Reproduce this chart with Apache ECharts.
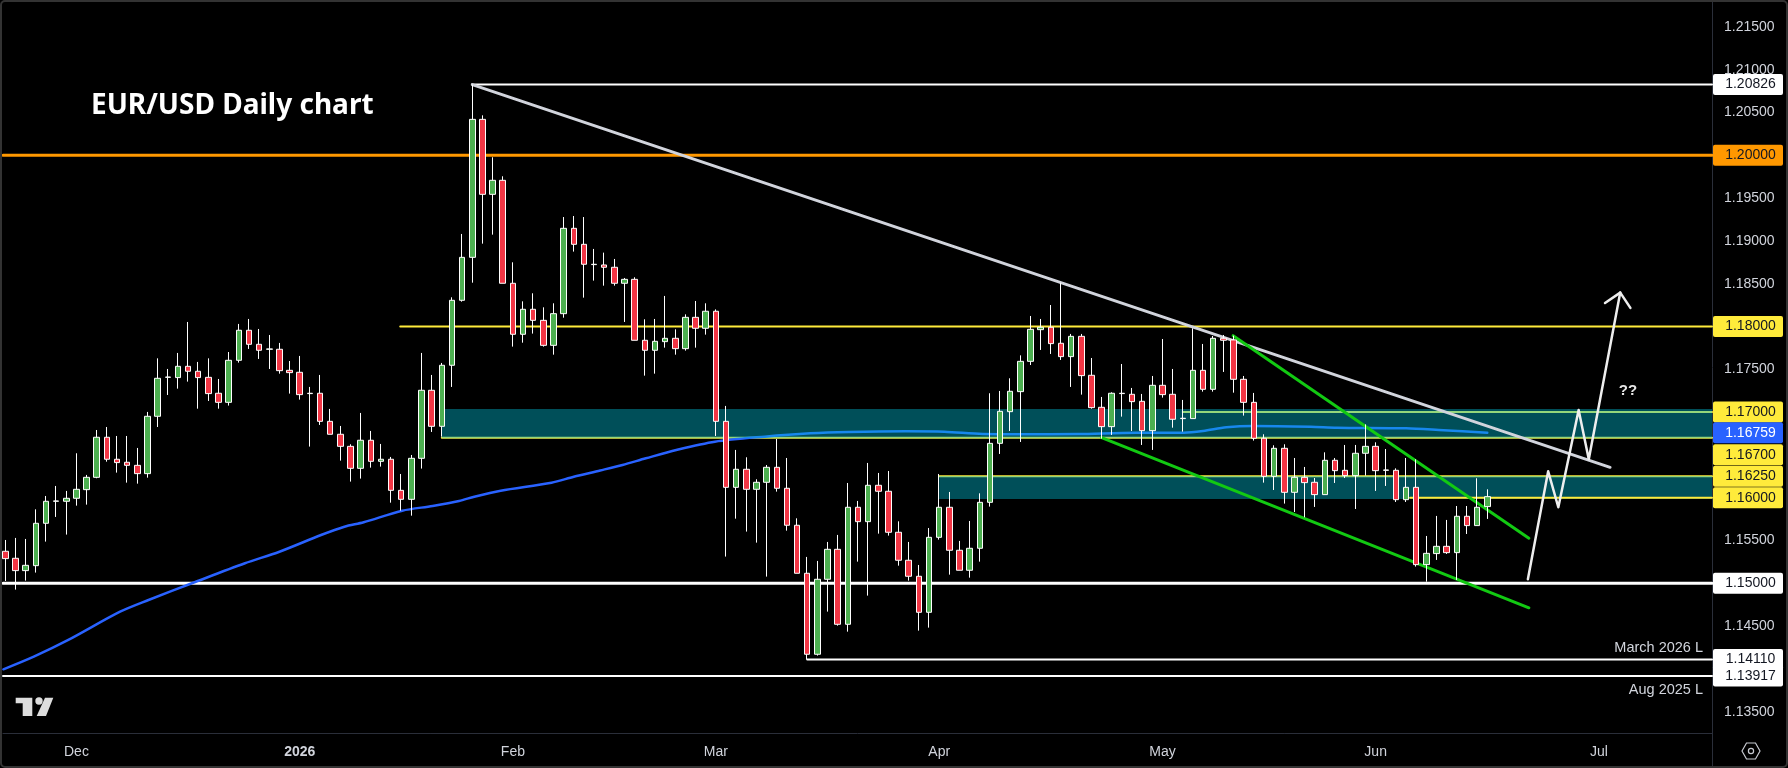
<!DOCTYPE html>
<html><head><meta charset="utf-8"><style>html,body{margin:0;padding:0;background:#000}#c{width:1788px;height:768px}</style>
<script src="https://cdn.jsdelivr.net/npm/echarts@6/dist/echarts.min.js"></script></head><body><div id="c"></div>
<script>
const opens=[1.15374,1.15292,1.15148,1.15206,1.15701,1.15958,1.15958,1.15993,1.16094,1.16238,1.16706,1.16449,1.16414,1.16378,1.16281,1.16951,1.17406,1.17403,1.17535,1.17477,1.17406,1.1722,1.17114,1.17605,1.17956,1.17792,1.17734,1.17734,1.17488,1.17465,1.17216,1.1722,1.16892,1.16741,1.166,1.16343,1.16671,1.16425,1.16449,1.16086,1.15981,1.1646,1.17255,1.16834,1.17547,1.18306,1.18808,1.2042,1.19544,1.19708,1.18505,1.17909,1.18201,1.18072,1.1778,1.1815,1.19147,1.1896,1.18723,1.18719,1.18692,1.18505,1.18551,1.17839,1.17722,1.17823,1.17862,1.17741,1.18107,1.17979,1.18178,1.16892,1.16121,1.16332,1.16098,1.1618,1.16355,1.1611,1.15678,1.15117,1.14171,1.15047,1.15397,1.14521,1.15888,1.1572,1.16145,1.16075,1.15596,1.15269,1.15082,1.14661,1.15537,1.15888,1.15386,1.15152,1.15409,1.15946,1.16635,1.17005,1.17239,1.17593,1.17963,1.17991,1.17804,1.17648,1.17885,1.1743,1.17056,1.1683,1.17216,1.17208,1.17126,1.16783,1.17313,1.17208,1.16924,1.16924,1.17488,1.17266,1.17862,1.17843,1.17383,1.17114,1.16694,1.1625,1.16577,1.16063,1.16238,1.1618,1.16036,1.16437,1.1632,1.16258,1.16519,1.166,1.1632,1.1632,1.15977,1.16121,1.15218,1.15347,1.15432,1.15358,1.15783,1.15674,1.15896];
const closes=[1.15288,1.15148,1.1521,1.15701,1.15958,1.15962,1.15993,1.16098,1.16238,1.16706,1.16449,1.1641,1.16378,1.16281,1.16951,1.17395,1.1741,1.17535,1.17477,1.17403,1.17216,1.17114,1.17605,1.17956,1.17792,1.17722,1.17738,1.17484,1.17461,1.17204,1.1722,1.16892,1.16741,1.166,1.16343,1.16671,1.16425,1.16449,1.16086,1.15981,1.1646,1.17255,1.16834,1.17547,1.18306,1.18808,1.2042,1.19544,1.19708,1.18505,1.17909,1.18201,1.18072,1.1778,1.1815,1.19147,1.1896,1.18727,1.18727,1.18692,1.18505,1.18551,1.17839,1.17722,1.17827,1.17862,1.17741,1.18107,1.17979,1.18178,1.16892,1.16121,1.16332,1.16098,1.1618,1.16355,1.1611,1.15678,1.15117,1.14171,1.15047,1.15397,1.14521,1.15888,1.1572,1.16145,1.16075,1.15596,1.15269,1.15082,1.14661,1.15537,1.15888,1.15386,1.15152,1.15409,1.15946,1.16635,1.17009,1.17243,1.17593,1.17967,1.17991,1.178,1.17648,1.17885,1.17426,1.17052,1.1683,1.1722,1.1722,1.17122,1.16783,1.17313,1.17204,1.16916,1.16928,1.17488,1.17266,1.17862,1.17839,1.17383,1.17114,1.16694,1.1625,1.16577,1.16063,1.16238,1.16176,1.16036,1.16437,1.16316,1.16258,1.16519,1.166,1.16316,1.16324,1.15977,1.16121,1.15218,1.1535,1.15432,1.15358,1.15783,1.15674,1.15888,1.16012];
const lows=[1.15027,1.14926,1.15031,1.15125,1.15487,1.15775,1.15569,1.15907,1.15919,1.16227,1.16421,1.16293,1.16176,1.16164,1.16234,1.16826,1.172,1.17274,1.17356,1.1704,1.1713,1.1704,1.17076,1.17578,1.17738,1.17621,1.17504,1.17449,1.17216,1.17146,1.16597,1.1685,1.16741,1.16433,1.16188,1.16223,1.16351,1.16363,1.15942,1.15849,1.1579,1.1634,1.16768,1.16713,1.17294,1.1829,1.18512,1.18968,1.19073,1.18505,1.17765,1.17811,1.17917,1.17765,1.17671,1.18103,1.18875,1.18337,1.18536,1.18477,1.18477,1.18053,1.17839,1.17426,1.17449,1.17753,1.17671,1.17718,1.17753,1.17905,1.16721,1.15312,1.15755,1.15604,1.15475,1.15078,1.16071,1.15615,1.15117,1.1411,1.14155,1.14669,1.14505,1.14435,1.15253,1.14856,1.1558,1.15557,1.15206,1.15031,1.14447,1.14482,1.1551,1.15101,1.15152,1.15066,1.15253,1.15896,1.16511,1.1678,1.16651,1.1755,1.17726,1.17679,1.17609,1.17294,1.17204,1.1704,1.1669,1.16733,1.16947,1.1678,1.16616,1.16558,1.17169,1.16818,1.16772,1.16924,1.17239,1.17239,1.17469,1.17227,1.16959,1.16667,1.16176,1.1609,1.15931,1.15833,1.15771,1.15892,1.16036,1.16172,1.1623,1.15868,1.16258,1.16079,1.16137,1.1595,1.1595,1.15195,1.15019,1.15273,1.15343,1.15039,1.15576,1.15674,1.15752];
const highs=[1.15506,1.1553,1.15518,1.15864,1.1602,1.16137,1.16079,1.16519,1.16266,1.16791,1.16826,1.16721,1.16721,1.16581,1.17002,1.17628,1.17504,1.17691,1.18053,1.17586,1.17628,1.17387,1.17702,1.1803,1.18088,1.17971,1.17901,1.17808,1.17597,1.17656,1.17294,1.17434,1.17037,1.16838,1.16624,1.1699,1.1678,1.16628,1.16476,1.16277,1.16499,1.17691,1.17434,1.17574,1.18341,1.19081,1.20826,1.20467,1.19977,1.19755,1.1875,1.18294,1.18388,1.18224,1.18271,1.19279,1.19291,1.19279,1.18906,1.18863,1.18789,1.18567,1.18575,1.18084,1.18088,1.18357,1.17967,1.18142,1.18298,1.18271,1.182,1.17072,1.16558,1.16472,1.16215,1.16382,1.16686,1.16464,1.15759,1.15308,1.15261,1.15483,1.15565,1.16172,1.15962,1.16406,1.16289,1.16312,1.15724,1.15483,1.15214,1.15646,1.16277,1.16067,1.15495,1.15728,1.16051,1.1722,1.17247,1.17395,1.17663,1.18123,1.18088,1.18251,1.18512,1.17913,1.17913,1.17632,1.17177,1.17231,1.17562,1.17282,1.17212,1.17422,1.17854,1.17504,1.17142,1.17979,1.17796,1.17889,1.17901,1.17893,1.17422,1.17224,1.16741,1.16612,1.16624,1.16464,1.16359,1.1623,1.1653,1.16464,1.16616,1.16616,1.16857,1.16647,1.16569,1.16343,1.16464,1.16449,1.15553,1.15787,1.1574,1.15903,1.15903,1.16227,1.16098];

const maBars=[-0.2,2.8,6.2,11.3,14.1,18.7,23.6,27,31.1,33.4,35.3,39.1,42.1,44.7,46.2,48.8,53.8,56,58.6,60.8,63.1,66.1,69.9,74.8,79.3,83.1,88.7,92.5,96.3,100.1,105.7,111.4,116.1,118,120.3,122.9,128.6,131.2,138,141.7,146];
const maValues=[1.13995,1.14143,1.14338,1.14668,1.14805,1.15015,1.15234,1.15369,1.15564,1.15661,1.15713,1.15848,1.15903,1.15961,1.16012,1.16082,1.16175,1.16245,1.16318,1.16382,1.1646,1.16557,1.16654,1.16713,1.16752,1.16768,1.16776,1.16771,1.16744,1.16741,1.16744,1.16759,1.16759,1.16779,1.16822,1.16838,1.16829,1.16818,1.16811,1.16787,1.16759];

const monthTickBars=[7,29,50,70,92,114,135,157];
const monthTickLabels=['Dec','2026','Feb','Mar','Apr','May','Jun','Jul'];
const priceTicks=[1.215,1.21,1.205,1.195,1.19,1.185,1.175,1.155,1.145,1.135];

const tagValues=[1.20826,1.2,1.18,1.17,1.167,1.16759,1.1625,1.16,1.15,1.1411,1.13917];
const tagFills=['#ffffff','#ff9800','#ffeb3b','#ffeb3b','#ffeb3b','#2962ff','#ffeb3b','#ffeb3b','#ffffff','#ffffff','#ffffff'];
const tagInks=['#131722','#131722','#131722','#131722','#131722','#ffffff','#131722','#131722','#131722','#131722','#131722'];
const tagShift=[0,0,0,0,17,0,0,0,0,0,0];

const hLevels=[1.20826,1.2,1.18,1.17,1.167,1.1625,1.15,1.1411,1.13917];
const hStarts=[46,-0.236,38.9,116,43,92,-0.236,79,-0.236];
const hColors=['#ffffff','#ff9800','#ffeb3b','#ffeb3b','#ffeb3b','#ffeb3b','#ffffff','#ffffff','#ffffff'];
const hWidths=[2,3,2,2,2,2,3,2,2];
const supportLevel=1.16, supportStart=138.4;

const zoneTops=[1.17036,1.16252], zoneBottoms=[1.16695,1.15985], zoneStarts=[43,92];

const greyTrendBars=[46,158.1], greyTrendPrices=[1.20826,1.16355];
const upperWedgeBars=[120.96,150.1], upperWedgePrices=[1.17893,1.15526];
const lowerWedgeBars=[108,150.1], lowerWedgePrices=[1.16702,1.14714];
const pathBars=[150,152,153,155,156,159.1], pathPrices=[1.15047,1.16308,1.15888,1.17025,1.16449,1.18396];
const headBars=[157.6,159.1,160.1], headPrices=[1.18275,1.18396,1.18218];

const xMin=-0.236, xMax=168.14, yMin=1.13251, yMax=1.21791;
const zip=(a,b)=>a.map((v,i)=>[v,b[i]]);
const ln=(data,color,width,z,extra)=>Object.assign({type:'line',data,z,silent:true,showSymbol:false,symbol:'none',animation:false,lineStyle:{color,width,cap:'round',join:'round'},emphasis:{disabled:true}},extra||{});

const series=[];
hLevels.forEach((p,i)=>series.push(ln([[hStarts[i],p],[xMax,p]],hColors[i],hWidths[i],0)));
series.push(ln(zip(maBars,maValues),'#2962ff',2.5,0,{smooth:0.3}));
series.push({type:'line',data:[],z:1,silent:true,animation:false,markArea:{z:1,silent:true,animation:false,itemStyle:{color:'rgba(0,188,212,0.42)'},data:zoneTops.map((t,i)=>[{coord:[zoneStarts[i],t]},{coord:[xMax,zoneBottoms[i]]}])}});
series.push(ln([[supportStart,supportLevel],[xMax,supportLevel]],'#ffeb3b',2,1.2));
series.push(ln(zip(greyTrendBars,greyTrendPrices),'#d1d4dc',3,1.5));
series.push(ln(zip(upperWedgeBars,upperWedgePrices),'#12c912',3,1.5));
series.push(ln(zip(lowerWedgeBars,lowerWedgePrices),'#12c912',3,1.5));
series.push({type:'candlestick',z:2,silent:true,animation:false,barWidth:6,encode:{x:0,y:[1,2,3,4]},
  itemStyle:{color:'#4caf50',color0:'#f23645',borderColor:'#ffffff',borderColor0:'#ffffff',borderWidth:1},
  data:opens.map((o,i)=>[i,o,closes[i],lows[i],highs[i]])});
series.push(ln(zip(pathBars,pathPrices),'#eeeeee',2.5,3));
series.push(ln(zip(headBars,headPrices),'#eeeeee',2.5,3));
series.push({type:'scatter',z:10,silent:true,animation:false,symbolSize:0,clip:false,itemStyle:{opacity:1},
  data:tagValues.map((p,i)=>({value:[xMax,p],label:{backgroundColor:tagFills[i],color:tagInks[i],offset:[36,tagShift[i]]}})),
  label:{show:true,opacity:1,position:'right',distance:0,width:65,height:21,lineHeight:21,padding:[0,0,0,5],align:'center',borderRadius:2,fontFamily:'Liberation Sans',fontSize:14,
    formatter:p=>p.value[1].toFixed(5)}});

const chart=echarts.init(document.getElementById('c'),null,{renderer:'canvas',width:1788,height:768});
chart.setOption({
  backgroundColor:'#000000',animation:false,
  title:{text:'EUR/USD Daily chart',left:86,top:87,textStyle:{color:'#ffffff',fontSize:28,fontWeight:'bold',fontFamily:'Noto Sans'}},
  grid:{left:3,right:76,top:2,bottom:35},
  xAxis:{type:'value',min:xMin,max:xMax,splitLine:{show:false},axisTick:{show:false},
    axisLine:{show:true,onZero:false,lineStyle:{color:'#2a2e39',width:1}},
    axisLabel:{customValues:monthTickBars,margin:12,color:'#d1d4dc',fontFamily:'Liberation Sans',fontSize:14,showMinLabel:true,showMaxLabel:true,hideOverlap:false,
      formatter:v=>{const k=monthTickLabels[monthTickBars.indexOf(v)];return k==='2026'?'{b|2026}':k;},
      rich:{b:{fontWeight:'bold',color:'#d1d4dc',fontSize:14,fontFamily:'Liberation Sans'}}}},
  yAxis:{type:'value',position:'right',min:yMin,max:yMax,scale:true,splitLine:{show:false},axisTick:{show:false},
    axisLine:{show:true,onZero:false,lineStyle:{color:'#2a2e39',width:1}},
    axisLabel:{customValues:priceTicks,margin:12,color:'#d1d4dc',fontFamily:'Liberation Sans',fontSize:14,hideOverlap:false,formatter:v=>v.toFixed(5)}},
  series,
  graphic:[
    {type:'text',z:20,style:{x:1703,y:648,text:'March 2026 L',align:'right',verticalAlign:'middle',fill:'#d1d4dc',font:'14.5px "Liberation Sans"'}},
    {type:'text',z:20,style:{x:1703,y:690,text:'Aug 2025 L',align:'right',verticalAlign:'middle',fill:'#d1d4dc',font:'14.5px "Liberation Sans"'}},
    {type:'text',z:20,style:{x:1628,y:391,text:'??',align:'center',verticalAlign:'middle',fill:'#e6e6e6',font:'bold 15px "Liberation Sans"'}},
    {type:'line',z:20,shape:{x1:1712.5,y1:733,x2:1712.5,y2:768},style:{stroke:'#2a2e39',lineWidth:1}},
    {type:'rect',z:30,silent:true,shape:{x:1,y:1,width:1786,height:766,r:4},style:{fill:null,stroke:'#333333',lineWidth:2}},
    {type:'polygon',z:20,shape:{points:[[15.7,697.7],[32.3,697.7],[32.3,716],[22.7,716],[22.7,703.3],[15.7,703.3]]},style:{fill:'#dddddd'}},
    {type:'circle',z:20,shape:{cx:39,cy:701,r:3.7},style:{fill:'#dddddd'}},
    {type:'polygon',z:20,shape:{points:[[53.3,697.7],[45,697.7],[36.7,716],[46,716]]},style:{fill:'#dddddd'}},
    {type:'polygon',z:20,shape:{points:[[1742,751],[1746.5,743],[1755.5,743],[1760,751],[1755.5,759],[1746.5,759]]},style:{fill:null,stroke:'#c8cbd2',lineWidth:1.2}},
    {type:'circle',z:20,shape:{cx:1751,cy:751,r:2.6},style:{fill:null,stroke:'#c8cbd2',lineWidth:1.2}}
  ]
});
</script></body></html>
